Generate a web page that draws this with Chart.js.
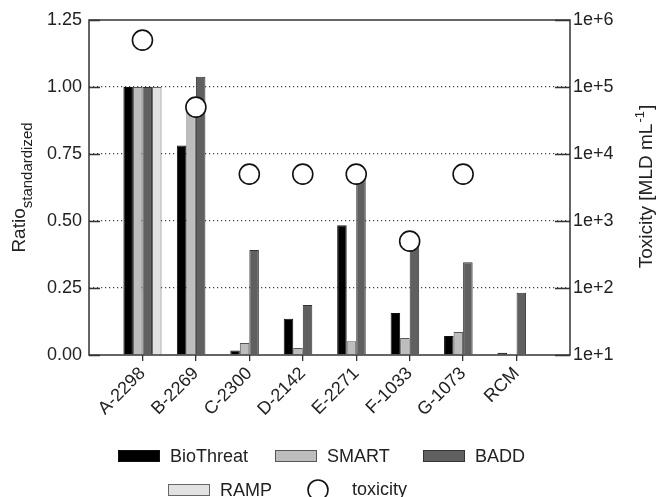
<!DOCTYPE html>
<html>
<head>
<meta charset="utf-8">
<script src="https://cdn.jsdelivr.net/npm/chart.js@4.4.1/dist/chart.umd.min.js"></script>
<style>
  html, body { margin: 0; padding: 0; background: #fff; }
</style>
</head>
<body>
<canvas id="chart" width="657" height="497"></canvas>
<script>
"use strict";

// values
const strains = ["A-2298", "B-2269", "C-2300", "D-2142", "E-2271", "F-1033", "G-1073", "RCM"];
const bioThreat = [1.0, 0.782, 0.017, 0.135, 0.484, 0.157, 0.071, 0.008];
const smart = [1.0, 0.93, 0.045, 0.026, 0.051, 0.063, 0.086, null];
const badd = [1.0, 1.038, 0.392, 0.187, 0.66, 0.41, 0.346, 0.232];
const ramp = [1.0, null, null, null, null, null, null, null];
const toxicity = [500000, 50000, 5000, 5000, 5000, 500, 5000, null];
const ratioTicks = [0, 0.25, 0.5, 0.75, 1.0, 1.25];
const toxTicks = [1e1, 1e2, 1e3, 1e4, 1e5, 1e6];

const FONT = "'Liberation Sans', Arial, Helvetica, sans-serif";
const INK = "#222";

Chart.defaults.font.family = FONT;
Chart.defaults.font.size = 18;
Chart.defaults.color = INK;

const toPoints = (arr) => arr.map((v, i) => ({ x: i + 1, y: v }));

// frame, inner tick marks, axis titles and the two-row legend
const decorations = {
	id: "decorations",
	afterDatasetsDraw(chart) {
		const { ctx, chartArea: a } = chart;
		const yL = chart.scales.y;
		const yR = chart.scales.y1;

		ctx.save();
		ctx.strokeStyle = "#333";
		ctx.lineWidth = 1.5;
		ctx.strokeRect(a.left, a.top, a.right - a.left, a.bottom - a.top);

		ctx.lineWidth = 1.3;
		ctx.beginPath();
		ratioTicks.forEach(v => {
			const py = Math.round(yL.getPixelForValue(v)) + 0.5;
			ctx.moveTo(a.left, py);
			ctx.lineTo(a.left + 11, py);
		});
		toxTicks.forEach(v => {
			const py = Math.round(yR.getPixelForValue(v)) + 0.5;
			ctx.moveTo(a.right - 15, py);
			ctx.lineTo(a.right, py);
		});
		ctx.stroke();
		ctx.restore();
	},
	afterDraw(chart) {
		const { ctx, chartArea: a } = chart;
		const midY = (a.top + a.bottom) / 2;

		ctx.save();
		ctx.fillStyle = INK;
		ctx.textBaseline = "alphabetic";

		// left title with subscript
		ctx.translate(0, midY);
		ctx.rotate(-Math.PI / 2);
		ctx.font = "19px " + FONT;
		const w1 = ctx.measureText("Ratio").width;
		ctx.font = "15px " + FONT;
		const w2 = ctx.measureText("standardized").width;
		const start = -(w1 + w2) / 2;
		ctx.font = "19px " + FONT;
		ctx.fillText("Ratio", start, 25);
		ctx.font = "15px " + FONT;
		ctx.fillText("standardized", start + w1, 32);
		ctx.restore();

		// right title
		ctx.save();
		ctx.fillStyle = INK;
		ctx.translate(chart.width, midY);
		ctx.rotate(-Math.PI / 2);
		ctx.font = "19px " + FONT;
		const t1 = "Toxicity [MLD mL";
		const t2 = "-1";
		const t3 = "]";
		const m1 = ctx.measureText(t1).width;
		ctx.font = "13px " + FONT;
		const m2 = ctx.measureText(t2).width;
		ctx.font = "19px " + FONT;
		const m3 = ctx.measureText(t3).width;
		const x0 = -(m1 + m2 + m3) / 2;
		ctx.fillText(t1, x0, -5);
		ctx.font = "13px " + FONT;
		ctx.fillText(t2, x0 + m1 + 1, -13);
		ctx.font = "19px " + FONT;
		ctx.fillText(t3, x0 + m1 + m2 + 2, -5);
		ctx.restore();

		// legend
		const slots = [
			{ x: 118, y: 456 },
			{ x: 275, y: 456 },
			{ x: 423, y: 456 },
			{ x: 168, y: 490 },
			{ x: 308, y: 490 }
		];
		ctx.save();
		ctx.font = "18px " + FONT;
		ctx.textBaseline = "middle";
		chart.data.datasets.forEach((ds, i) => {
			const s = slots[i];
			ctx.lineWidth = 1;
			ctx.strokeStyle = ds.borderColor;
			ctx.fillStyle = ds.backgroundColor;
			if (ds.type === "line") {
				ctx.lineWidth = 1.6;
				ctx.strokeStyle = ds.pointBorderColor;
				ctx.fillStyle = ds.pointBackgroundColor;
				ctx.beginPath();
				ctx.arc(s.x + 10, s.y, 10, 0, Math.PI * 2);
				ctx.fill();
				ctx.stroke();
				ctx.fillStyle = INK;
				ctx.fillText(ds.label, s.x + 44, s.y);
			} else {
				ctx.fillRect(s.x, s.y - 6, 42, 12);
				ctx.strokeRect(s.x + 0.5, s.y - 5.5, 41, 11);
				ctx.fillStyle = INK;
				ctx.fillText(ds.label, s.x + 52, s.y + 1);
			}
		});
		ctx.restore();
	}
};

const ctx = document.getElementById("chart").getContext("2d");

new Chart(ctx, {
	type: "bar",
	data: {
		datasets: [
			{ label: "BioThreat", data: toPoints(bioThreat), backgroundColor: "#000000", borderColor: "#111", borderWidth: 1, order: 1 },
			{ label: "SMART", data: toPoints(smart), backgroundColor: "#bdbdbd", borderColor: "#555", borderWidth: 1, order: 1 },
			{ label: "BADD", data: toPoints(badd), backgroundColor: "#606060", borderColor: "#333", borderWidth: 1, order: 1 },
			{ label: "RAMP", data: toPoints(ramp), backgroundColor: "#e2e2e2", borderColor: "#666", borderWidth: 1, order: 1 },
			{
				type: "line",
				label: "toxicity",
				data: toPoints(toxicity),
				yAxisID: "y1",
				showLine: false,
				pointRadius: 10,
				pointHoverRadius: 10,
				pointBorderWidth: 1.6,
				pointBackgroundColor: "#fff",
				pointBorderColor: "#111",
				borderColor: "#111",
				backgroundColor: "#fff",
				order: 0
			}
		]
	},
	options: {
		responsive: false,
		animation: false,
		events: [],
		layout: { padding: { top: 20, left: 0, right: 0, bottom: 0 } },
		datasets: {
			bar: { categoryPercentage: 0.713, barPercentage: 1.0 }
		},
		plugins: {
			legend: { display: false },
			tooltip: { enabled: false }
		},
		scales: {
			x: {
				type: "linear",
				min: 0,
				max: 9,
				offset: false,
				afterBuildTicks: (s) => { s.ticks = strains.map((_, i) => ({ value: i + 1 })); },
				afterFit: (s) => { s.height = 142; },
				ticks: {
					autoSkip: false,
					minRotation: 45,
					maxRotation: 45,
					padding: 2,
					callback: (v) => strains[v - 1]
				},
				grid: { offset: false, drawOnChartArea: false, tickLength: 6, color: "#333", lineWidth: 1.3 },
				border: { display: false }
			},
			y: {
				position: "left",
				min: 0,
				max: 1.25,
				afterBuildTicks: (s) => { s.ticks = ratioTicks.map(v => ({ value: v })); },
				afterFit: (s) => { s.width = 89; },
				ticks: { padding: 7, callback: (v) => v.toFixed(2) },
				grid: {
					drawTicks: false,
					lineWidth: 1.2,
					color: (c) => (c.tick && (c.tick.value === 0 || c.tick.value === 1.25)) ? "rgba(0,0,0,0)" : "#444"
				},
				border: { display: false, dash: [1.2, 2.8] }
			},
			y1: {
				type: "logarithmic",
				position: "right",
				min: 10,
				max: 1e6,
				afterBuildTicks: (s) => { s.ticks = toxTicks.map(v => ({ value: v })); },
				afterFit: (s) => { s.width = 87; },
				ticks: { padding: 3, callback: (v) => "1e+" + Math.round(Math.log10(v)) },
				grid: { drawOnChartArea: false, drawTicks: false },
				border: { display: false }
			}
		}
	},
	plugins: [decorations]
});
</script>
</body>
</html>
